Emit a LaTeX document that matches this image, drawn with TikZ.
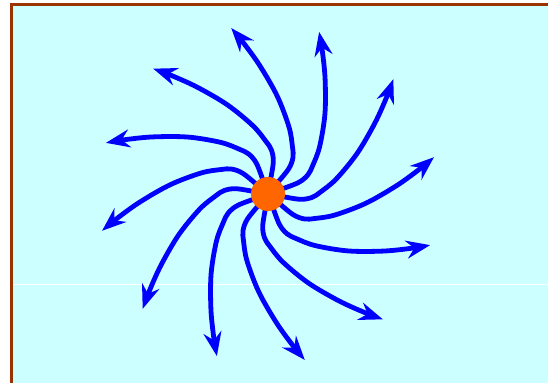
\documentclass[tikz,border=0pt]{standalone}
\usepackage{tikz}
\usetikzlibrary{arrows.meta}
\definecolor{skycyan}{HTML}{CCFFFF}
\definecolor{framebrown}{HTML}{993300}
\definecolor{coreorange}{HTML}{FF6600}
\definecolor{rayblue}{HTML}{0000FF}

\begin{document}
\begin{tikzpicture}[x=0.5mm, y=0.5mm,
  ray/.style={rayblue, line width=2.4mm, line cap=round, line join=round,
    -{Stealth[length=12mm, width=9mm, inset=4mm]}}]

% ---- canvas and frame --------------------------------------------------
\useasboundingbox (0,0) rectangle (548,382);
\fill[skycyan] (11.7,-5) rectangle (555,377.5);
\draw[framebrown, line width=1.5mm] (11.7,-5) -- (11.7,377.5) -- (555,377.5);
\draw[white, line width=0.5mm] (13,97.5) -- (548,97.5);

% ---- spiral rays -------------------------------------------------------
\coordinate (core) at (268,188);
\foreach \k in {0,...,11}
  \draw[ray, shift={(core)}, rotate=12.5+30*\k] plot[smooth, tension=0.55] coordinates
    {(-52:10) (-52:32) (-47:44) (-40:53) (-30:70) (-18:98) (-9:128) (-3.5:152) (0:170)};

% ---- core --------------------------------------------------------------
\node[circle, fill=coreorange, minimum size=17mm, inner sep=0pt] (sun) at (core) {};
\end{tikzpicture}
\end{document}
